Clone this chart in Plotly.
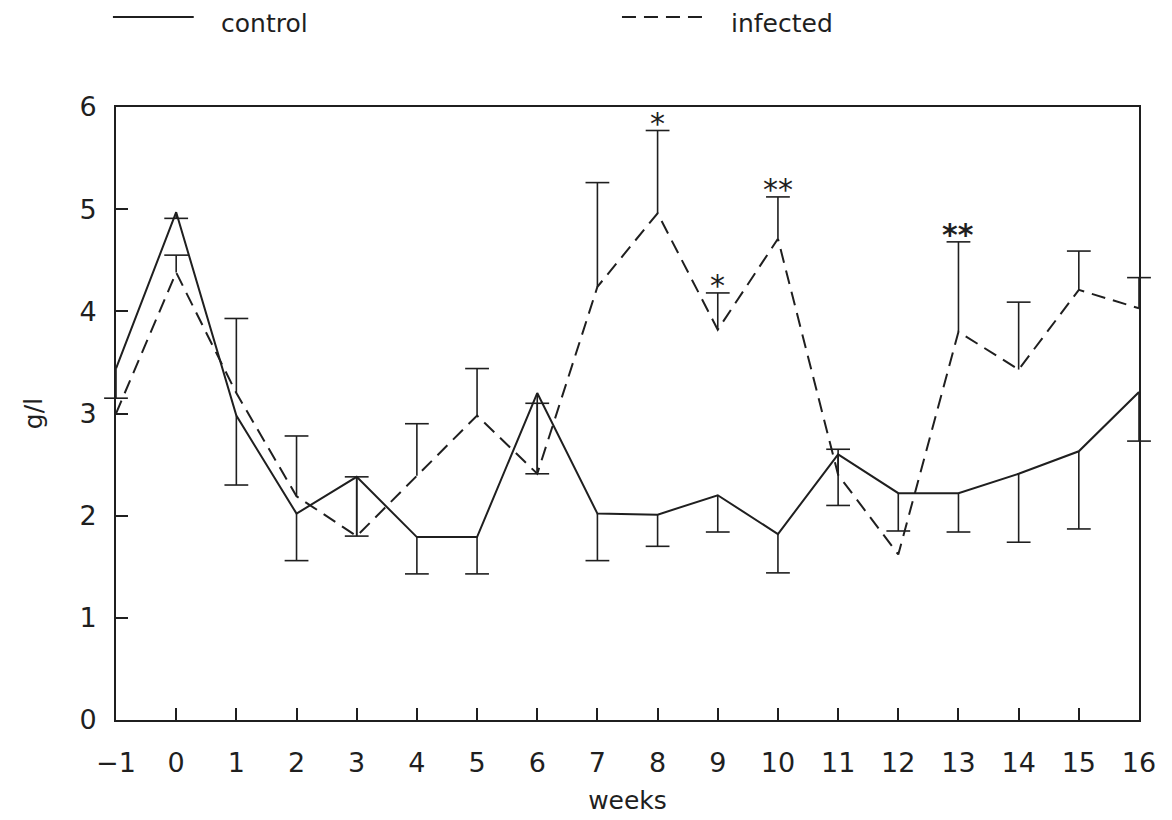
import plotly.graph_objects as go

# ---- data ----
weeks = list(range(-1, 17))
control = [3.44, 4.97, 2.98, 2.02, 2.38, 1.79, 1.79, 3.20, 2.02, 2.01, 2.20, 1.82,
           2.60, 2.22, 2.22, 2.41, 2.63, 3.21]
control_err = [0.29, 0.06, 0.68, 0.46, 0.58, 0.36, 0.36, 0.79, 0.46, 0.31, 0.36, 0.38,
               0.50, 0.37, 0.38, 0.67, 0.76, 0.48]
infected = [3.00, 4.38, 3.20, 2.19, 1.80, 2.39, 2.98, 2.41, 4.24, 4.96, 3.82, 4.71,
            2.40, 1.62, 3.80, 3.43, 4.21, 4.03]
infected_err = [0.00, 0.17, 0.73, 0.59, 0.58, 0.51, 0.46, 0.69, 1.02, 0.81, 0.36, 0.41,
                0.25, 0.00, 0.88, 0.66, 0.38, 0.30]
sig_weeks = [8, 9, 10, 13]
sig_labels = ["*", "*", "**", "<b>**</b>"]
x_ticks = list(range(-1, 17))
y_ticks = list(range(0, 7))

INK = "#1f1f1f"
FONT = "DejaVu Sans"

fig = go.Figure()


def add_errors(x, y, e, direction):
    sx, sy, cx, cy = [], [], [], []
    for xi, yi, ei in zip(x, y, e):
        if ei <= 0:
            continue
        end = yi + direction * ei
        sx += [xi, xi, None]
        sy += [yi, end, None]
        cx.append(xi)
        cy.append(end)
    fig.add_trace(go.Scatter(x=sx, y=sy, mode="lines", showlegend=False,
                             line=dict(color=INK, width=1.6), cliponaxis=False,
                             hoverinfo="skip"))
    fig.add_trace(go.Scatter(x=cx, y=cy, mode="markers", showlegend=False,
                             marker=dict(symbol="line-ew", size=17,
                                         line=dict(color=INK, width=1.6)),
                             cliponaxis=False, hoverinfo="skip"))


fig.add_trace(go.Scatter(x=weeks, y=control, mode="lines", name="control",
                         line=dict(color=INK, width=2), cliponaxis=False))
fig.add_trace(go.Scatter(x=weeks, y=infected, mode="lines", name="infected",
                         line=dict(color=INK, width=2, dash="14px,8px"), cliponaxis=False))
add_errors(weeks, control, control_err, -1)
add_errors(weeks, infected, infected_err, +1)

# significance marks above the infected error bars
for w, lab in zip(sig_weeks, sig_labels):
    i = weeks.index(w)
    fig.add_annotation(x=w, y=infected[i] + infected_err[i], text=lab, showarrow=False,
                       yanchor="middle", yshift=7,
                       font=dict(family=FONT, size=30, color=INK))

# legend drawn above the plot
fig.add_shape(type="line", xref="paper", yref="paper", x0=-0.003, x1=0.076,
              y0=1.1468, y1=1.1468, line=dict(color=INK, width=2))
fig.add_annotation(xref="paper", yref="paper", x=0.1007, y=1.137, text="control",
                   showarrow=False, xanchor="left", yanchor="middle",
                   font=dict(family=FONT, size=25, color=INK))
fig.add_shape(type="line", xref="paper", yref="paper", x0=0.4946, x1=0.5728,
              y0=1.1468, y1=1.1468, line=dict(color=INK, width=2, dash="14px,8px"))
fig.add_annotation(xref="paper", yref="paper", x=0.5992, y=1.137, text="infected",
                   showarrow=False, xanchor="left", yanchor="middle",
                   font=dict(family=FONT, size=25, color=INK))

axis_common = dict(showgrid=False, zeroline=False, showline=True, linecolor=INK,
                   linewidth=2, mirror=True, ticks="inside", ticklen=12, tickwidth=1.5,
                   tickcolor=INK, automargin=False,
                   tickfont=dict(family=FONT, size=27, color=INK))

fig.update_xaxes(range=[-1, 16], tickmode="array", tickvals=x_ticks,
                 ticklabelstandoff=18,
                 title=dict(text="weeks", font=dict(family=FONT, size=25, color=INK),
                            standoff=14),
                 **axis_common)
fig.update_yaxes(range=[0, 6], tickmode="array", tickvals=y_ticks,
                 ticklabelstandoff=12,
                 title=dict(text="g/l", font=dict(family=FONT, size=25, color=INK),
                            standoff=30),
                 **axis_common)

fig.update_layout(template="none", width=1172, height=820, showlegend=False,
                  margin=dict(l=116, r=33, t=107, b=100),
                  paper_bgcolor="white", plot_bgcolor="white")

fig.write_html("out.html")
